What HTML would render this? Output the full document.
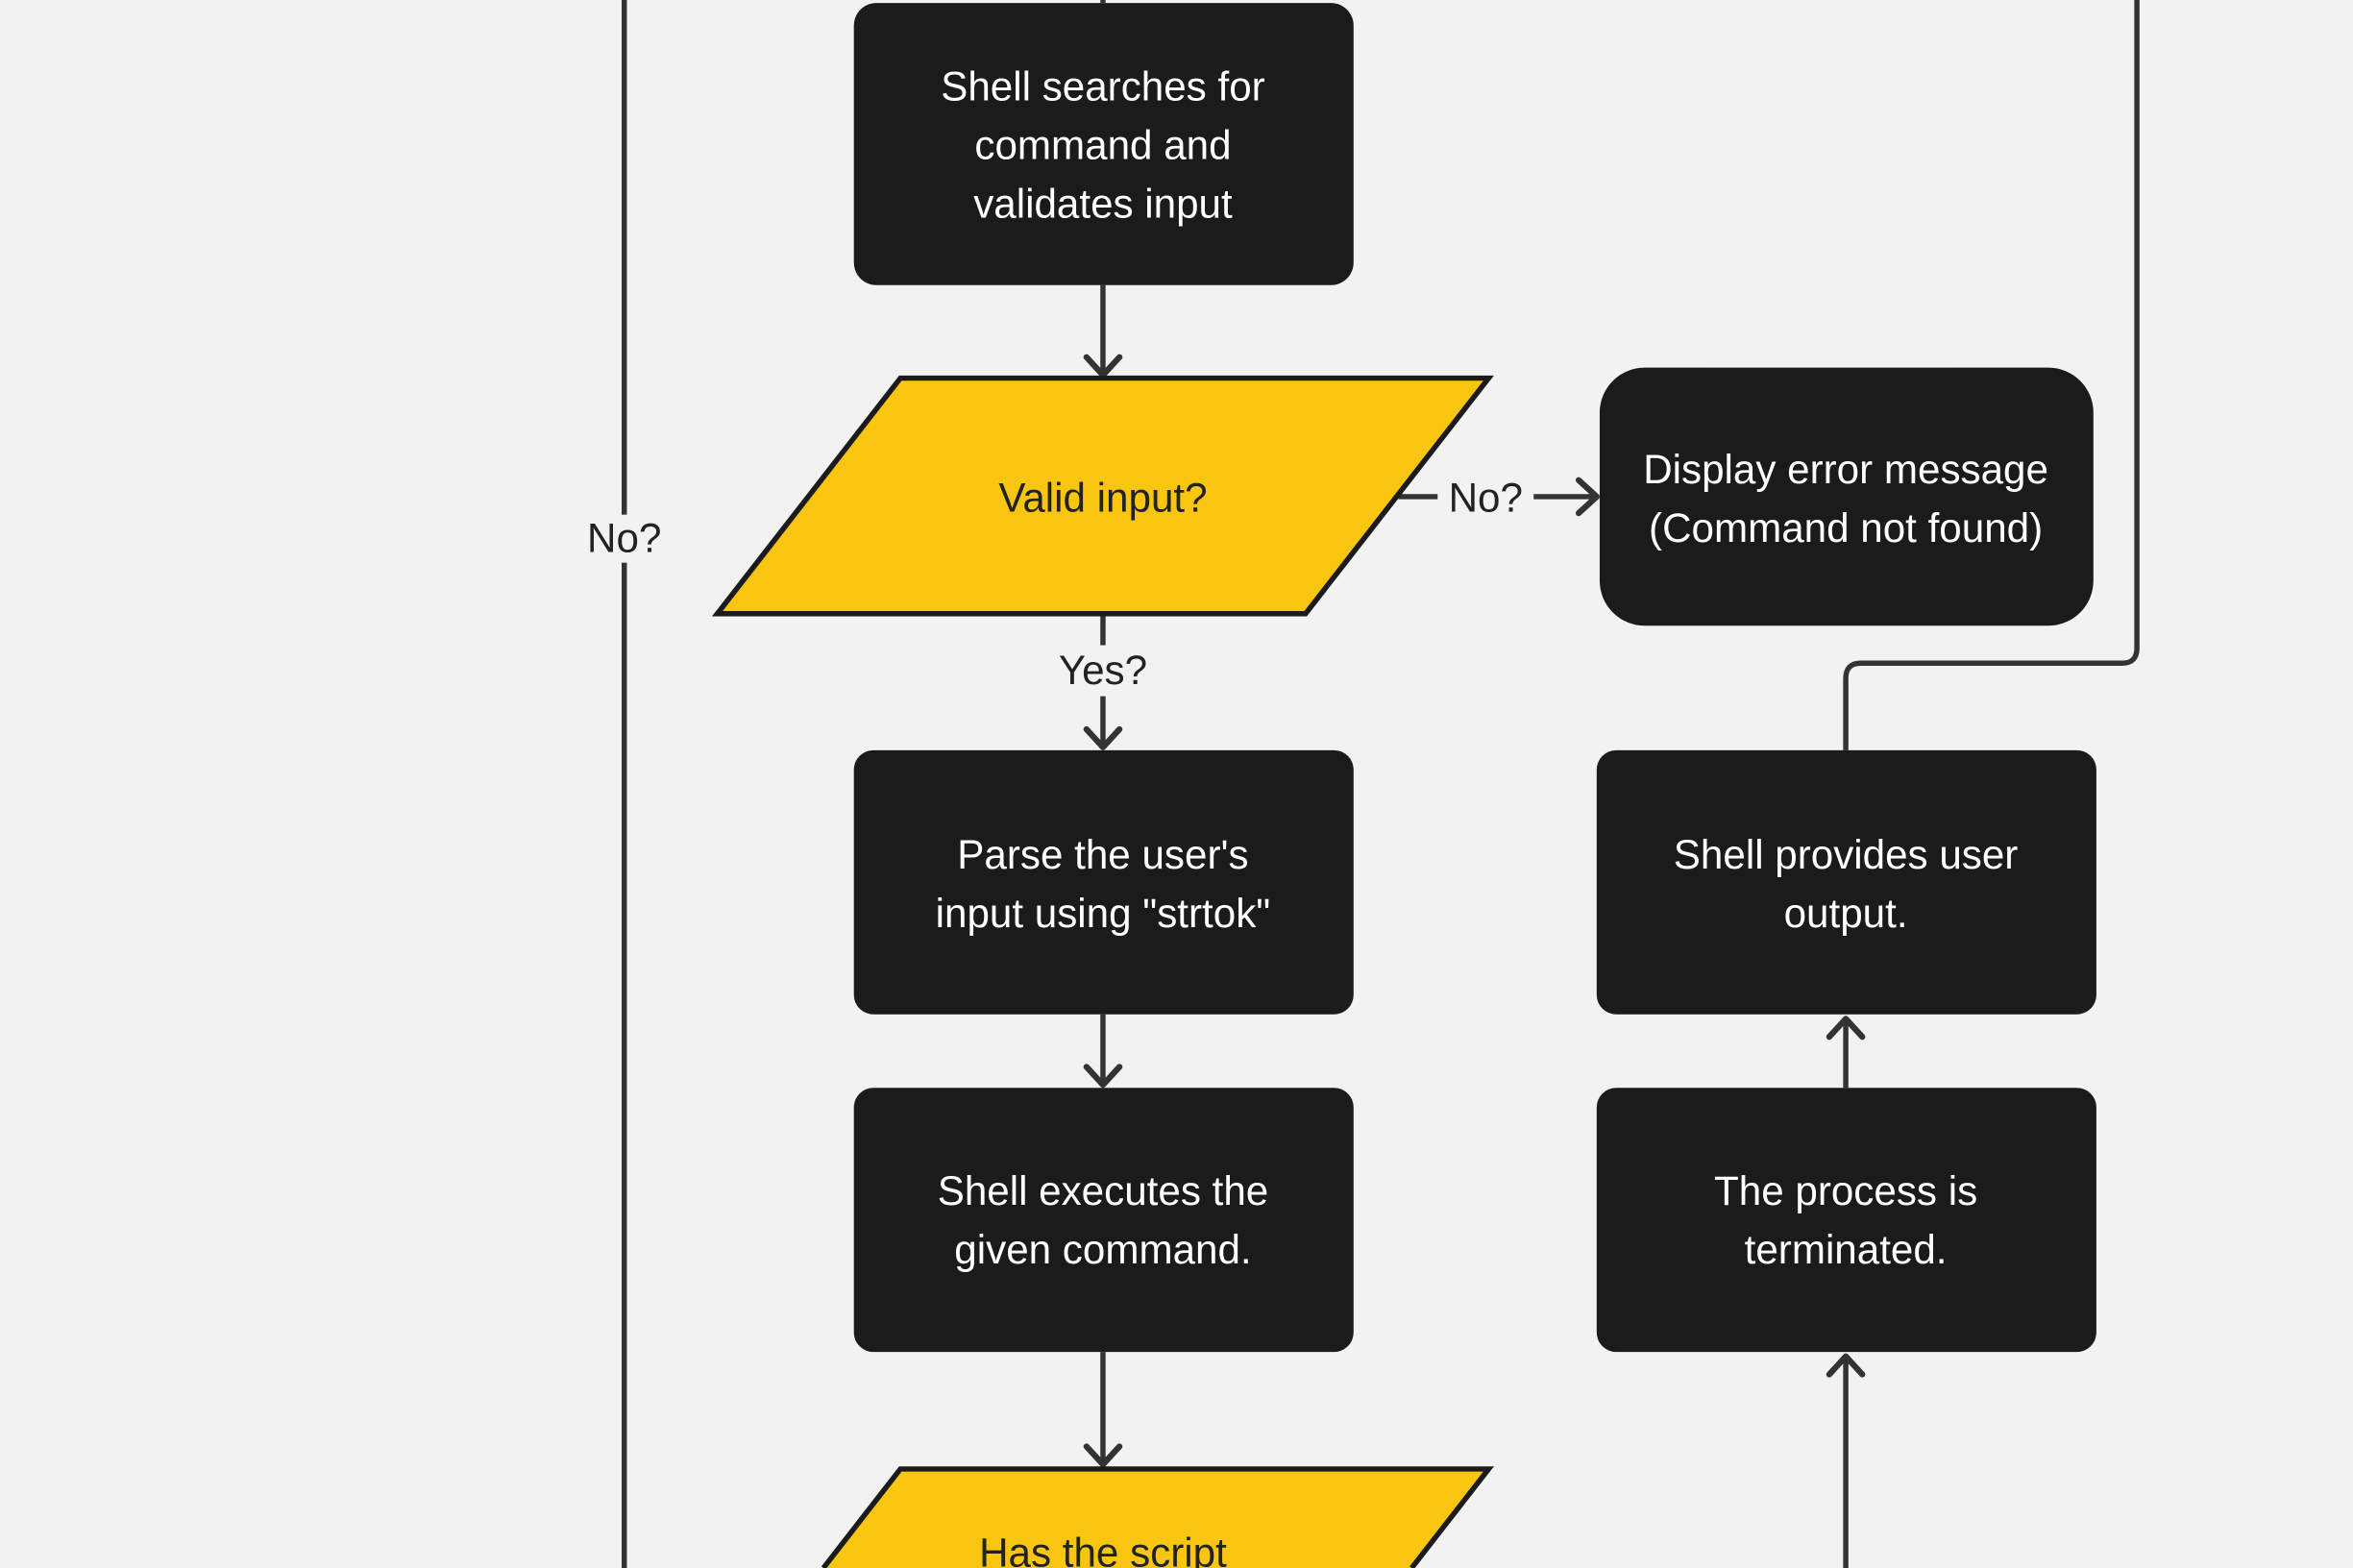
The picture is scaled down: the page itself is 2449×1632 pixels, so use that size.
<!DOCTYPE html>
<html><head><meta charset="utf-8"><style>
html,body{margin:0;padding:0;background:#f2f2f2;width:2449px;height:1632px;overflow:hidden;}
svg{display:block;overflow:hidden;}
text{font-family:"Liberation Sans",sans-serif;font-size:27px;text-anchor:middle;}
.w{fill:#fff;}
.d{fill:#222;}
</style></head><body>
<svg width="2449" height="1632" viewBox="0 0 1568 1045" preserveAspectRatio="none" xmlns="http://www.w3.org/2000/svg">
<rect width="1568" height="1045" fill="#f2f2f2"/>
<defs>
<marker id="a" viewBox="0 0 30 30" refX="26" refY="15" markerWidth="30" markerHeight="30" markerUnits="userSpaceOnUse" orient="auto">
<path d="M14,4 L26,15 L14,26" fill="none" stroke="#333" stroke-width="4" stroke-linejoin="round" stroke-linecap="round"/>
</marker>
</defs>
<g stroke="#333" stroke-width="3.5" fill="none">
<line x1="416" y1="0" x2="416" y2="1045"/>
<line x1="735" y1="0" x2="735" y2="2"/>
<line x1="735" y1="190" x2="735" y2="250" marker-end="url(#a)"/>
<line x1="932" y1="331" x2="958" y2="331"/>
<line x1="1022" y1="331" x2="1064" y2="331" marker-end="url(#a)"/>
<line x1="735" y1="410" x2="735" y2="430"/>
<line x1="735" y1="464" x2="735" y2="498" marker-end="url(#a)"/>
<line x1="735" y1="676" x2="735" y2="723" marker-end="url(#a)"/>
<line x1="735" y1="901" x2="735" y2="976" marker-end="url(#a)"/>
<line x1="1230" y1="725" x2="1230" y2="679" marker-end="url(#a)"/>
<line x1="1230" y1="1045" x2="1230" y2="904" marker-end="url(#a)"/>
<path d="M1230,500 L1230,452 Q1230,442 1240,442 L1414,442 Q1424,442 1424,432 L1424,0"/>
</g>
<rect x="404" y="343" width="24" height="32" fill="#f2f2f2"/>
<text x="416" y="368" class="d">No?</text>
<text x="990" y="341" class="d">No?</text>
<text x="735" y="456" class="d">Yes?</text>
<rect x="569" y="2" width="333" height="188" rx="15" fill="#1b1b1b"/>
<text x="735" y="67" class="w">Shell searches for</text>
<text x="735" y="106" class="w">command and</text>
<text x="735" y="145" class="w">validates input</text>
<polygon points="600,252 992,252 870,409 478,409" fill="#f8c611" stroke="#1b1b1b" stroke-width="3.5"/>
<text x="735" y="341" class="d">Valid input?</text>
<rect x="1066" y="245" width="329" height="172" rx="30" fill="#1b1b1b"/>
<text x="1230" y="322" class="w">Display error message</text>
<text x="1230" y="361" class="w">(Command not found)</text>
<rect x="569" y="500" width="333" height="176" rx="13" fill="#1b1b1b"/>
<text x="735" y="579" class="w">Parse the user's</text>
<text x="735" y="618" class="w">input using "strtok"</text>
<rect x="569" y="725" width="333" height="176" rx="13" fill="#1b1b1b"/>
<text x="735" y="803" class="w">Shell executes the</text>
<text x="735" y="842" class="w">given command.</text>
<polygon points="600,979 992,979 940.7,1045 548.7,1045" fill="#f8c611"/>
<path d="M548.7,1045 L600,979 L992,979 L940.7,1045" fill="none" stroke="#1b1b1b" stroke-width="3.5"/>
<text x="735" y="1044" class="d">Has the script</text>
<rect x="1064" y="500" width="333" height="176" rx="13" fill="#1b1b1b"/>
<text x="1230" y="579" class="w">Shell provides user</text>
<text x="1230" y="618" class="w">output.</text>
<rect x="1064" y="725" width="333" height="176" rx="13" fill="#1b1b1b"/>
<text x="1230" y="803" class="w">The process is</text>
<text x="1230" y="842" class="w">terminated.</text>
</svg>
</body></html>
